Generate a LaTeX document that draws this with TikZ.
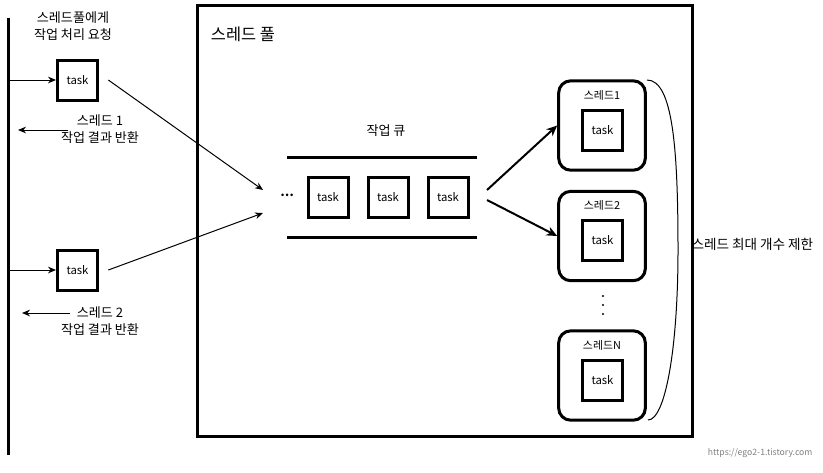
\documentclass[tikz,border=0pt]{standalone}
\usepackage{fontspec}
\setmainfont{Noto Sans CJK KR}
\usetikzlibrary{arrows.meta}

\tikzset{every picture/.style={line width=0.75pt}}
\tikzset{
  thick line/.style={line width=2.25pt},
  taskbox/.style={draw, line width=2.25pt, minimum width=30pt, minimum height=30pt, inner sep=0pt, font=\fontsize{8.5}{10}\selectfont},
  threadbox/.style={draw, line width=2.25pt, rounded corners=9pt, minimum width=65pt, minimum height=67pt, inner sep=0pt},
  lbl/.style={font=\fontsize{9.8}{12.75}\selectfont, align=center, inner sep=0pt},
  smalllbl/.style={font=\fontsize{8.2}{9}\selectfont, inner sep=0pt},
  arr/.style={-{Stealth[length=6pt,width=5pt]}},
  bigarr/.style={line width=1.5pt, -{Stealth[length=8pt,width=7pt]}}
}

\begin{document}
\begin{tikzpicture}[x=0.75pt,y=0.75pt,yscale=-1,xscale=1]
\useasboundingbox (0,0) rectangle (823,472);

%Client line
\draw [thick line] (8,18) -- (8,455);
\coordinate (c1) at (8,80);
\coordinate (c2) at (8,270);

% Text Node
\node [lbl] (req) at (73,26) {스레드풀에게\\작업 처리 요청};

%Shape: Rectangle
\node [taskbox] (t1) at (77.5,80) {task};
\node [taskbox] (t2) at (77.5,270) {task};
\draw [arr] (c1) -- (t1);
\draw [arr] (c2) -- (t2);

%Return arrows
\node [lbl] (res1) at (100,129.5) {스레드 1\\작업 결과 반환};
\node [lbl] (res2) at (100,321) {스레드 2\\작업 결과 반환};
\coordinate (r1a) at (68,130);
\coordinate (r1b) at (18,130);
\coordinate (r2a) at (70,313);
\coordinate (r2b) at (22,313);
\draw [arr] (r1a) -- (r1b);
\draw [arr] (r2a) -- (r2b);

%Thread pool
\draw [thick line] (197.5,5.5) rectangle (692.5,436.5);
\node [font=\fontsize{12.3}{14}\selectfont, inner sep=0pt] (pool) at (243,34) {스레드 풀};

%Work queue
\node [lbl] (qname) at (386,131) {작업 큐};
\draw [thick line] (287,157) -- (477,157);
\draw [thick line] (287,237) -- (477,237);
\node [font=\fontsize{9}{10}\selectfont\bfseries, inner sep=0pt] (dots) at (287,195) {…};
\node [taskbox] (q1) at (328,197) {task};
\node [taskbox] (q2) at (388,197) {task};
\node [taskbox] (q3) at (448,197) {task};

\coordinate (qin1) at (263,190);
\coordinate (qin2) at (263,213);
\draw [arr] ([xshift=7pt]t1.east) -- (qin1);
\draw [arr] ([xshift=7pt]t2.east) -- (qin2);

%Threads
\node [threadbox] (th1) at (602,125.5) {};
\node [smalllbl] (th1name) at (602,95) {스레드1};
\node [taskbox] (th1task) at (602.5,130.5) {task};

\node [threadbox] (th2) at (602,236) {};
\node [smalllbl] (th2name) at (602,205) {스레드2};
\node [taskbox] (th2task) at (602.5,240.5) {task};

\node [threadbox] (thN) at (602,375.5) {};
\node [smalllbl] (thNname) at (602,345) {스레드N};
\node [taskbox] (thNtask) at (602.5,380) {task};

\fill (603,296) circle (1.2) (603,305) circle (1.2) (603,314) circle (1.2);

\coordinate (qout1) at (487,190);
\coordinate (qout2) at (487,200);
\draw [bigarr] (qout1) -- (th1.west);
\draw [bigarr] (qout2) -- (th2.west);

%Limit brace
\draw (647,80) .. controls (673,80) and (678,150) .. (678,250) .. controls (678,350) and (665,420) .. (648,420);
\node [font=\fontsize{10.2}{12}\selectfont, anchor=west, inner sep=0pt] (limit) at (691,244) {스레드 최대 개수 제한};

% Footer
\node [font=\fontsize{6.5}{8}\selectfont, text=gray, anchor=east, inner sep=0pt] (url) at (813,453) {https://ego2-1.tistory.com};
\end{tikzpicture}
\end{document}
